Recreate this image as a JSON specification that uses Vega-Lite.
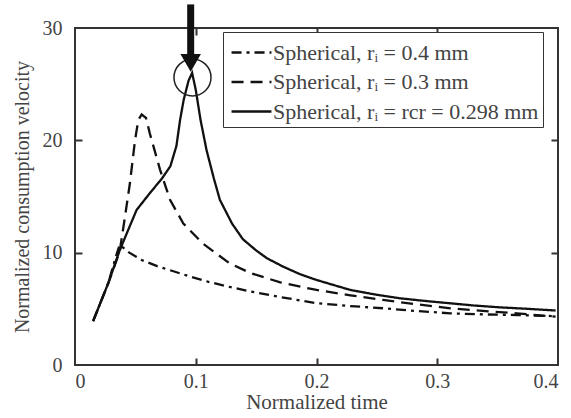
{
  "$schema": "https://vega.github.io/schema/vega-lite/v6.json",
  "width": 483,
  "height": 337,
  "autosize": "none",
  "padding": {"left": 75, "top": 28, "right": 13, "bottom": 53},
  "background": "white",
  "config": {
    "view": {"stroke": "#333", "strokeWidth": 2},
    "font": "Liberation Serif",
    "axis": {
      "labelFont": "Liberation Serif", "labelFontSize": 20, "labelColor": "#444",
      "titleFont": "Liberation Serif", "titleFontSize": 20, "titleColor": "#444", "titleFontWeight": "normal",
      "domain": false, "grid": false, "tickColor": "#333", "tickWidth": 2, "tickSize": 7
    },
    "legend": {
      "labelFont": "Liberation Serif", "labelFontSize": 22, "labelColor": "#444"
    }
  },
  "datasets": {
    "curves": [
      {"series": "r04", "t": 0.015, "v": 3.9},
      {"series": "r04", "t": 0.0276, "v": 7.3},
      {"series": "r04", "t": 0.034, "v": 9.7},
      {"series": "r04", "t": 0.037, "v": 10.7},
      {"series": "r04", "t": 0.045, "v": 10.0},
      {"series": "r04", "t": 0.0552, "v": 9.35},
      {"series": "r04", "t": 0.068, "v": 8.8},
      {"series": "r04", "t": 0.0828, "v": 8.3},
      {"series": "r04", "t": 0.096, "v": 7.85},
      {"series": "r04", "t": 0.11, "v": 7.42},
      {"series": "r04", "t": 0.128, "v": 6.95},
      {"series": "r04", "t": 0.145, "v": 6.55},
      {"series": "r04", "t": 0.17, "v": 6.05},
      {"series": "r04", "t": 0.2, "v": 5.5},
      {"series": "r04", "t": 0.228, "v": 5.25},
      {"series": "r04", "t": 0.255, "v": 5.05},
      {"series": "r04", "t": 0.283, "v": 4.8},
      {"series": "r04", "t": 0.311, "v": 4.6},
      {"series": "r04", "t": 0.34, "v": 4.5},
      {"series": "r04", "t": 0.366, "v": 4.45},
      {"series": "r04", "t": 0.398, "v": 4.35},

      {"series": "r03", "t": 0.015, "v": 3.9},
      {"series": "r03", "t": 0.0276, "v": 7.3},
      {"series": "r03", "t": 0.037, "v": 10.1},
      {"series": "r03", "t": 0.0414, "v": 13.2},
      {"series": "r03", "t": 0.0455, "v": 16.2},
      {"series": "r03", "t": 0.0497, "v": 20.0},
      {"series": "r03", "t": 0.0524, "v": 21.8},
      {"series": "r03", "t": 0.0552, "v": 22.3},
      {"series": "r03", "t": 0.0588, "v": 22.0},
      {"series": "r03", "t": 0.062, "v": 20.6},
      {"series": "r03", "t": 0.0704, "v": 17.4},
      {"series": "r03", "t": 0.0787, "v": 14.7},
      {"series": "r03", "t": 0.0897, "v": 12.6},
      {"series": "r03", "t": 0.106, "v": 10.8},
      {"series": "r03", "t": 0.128, "v": 9.06},
      {"series": "r03", "t": 0.145, "v": 8.2},
      {"series": "r03", "t": 0.17, "v": 7.35},
      {"series": "r03", "t": 0.2, "v": 6.68},
      {"series": "r03", "t": 0.228, "v": 6.2},
      {"series": "r03", "t": 0.255, "v": 5.79},
      {"series": "r03", "t": 0.283, "v": 5.4},
      {"series": "r03", "t": 0.311, "v": 5.05},
      {"series": "r03", "t": 0.34, "v": 4.8},
      {"series": "r03", "t": 0.366, "v": 4.6},
      {"series": "r03", "t": 0.398, "v": 4.3},

      {"series": "rcr", "t": 0.015, "v": 3.9},
      {"series": "rcr", "t": 0.0276, "v": 7.3},
      {"series": "rcr", "t": 0.037, "v": 10.2},
      {"series": "rcr", "t": 0.0428, "v": 11.7},
      {"series": "rcr", "t": 0.051, "v": 13.8},
      {"series": "rcr", "t": 0.062, "v": 15.3},
      {"series": "rcr", "t": 0.072, "v": 16.6},
      {"series": "rcr", "t": 0.079, "v": 17.7},
      {"series": "rcr", "t": 0.084, "v": 19.5},
      {"series": "rcr", "t": 0.087, "v": 21.8},
      {"series": "rcr", "t": 0.09, "v": 23.6},
      {"series": "rcr", "t": 0.094, "v": 25.3},
      {"series": "rcr", "t": 0.097, "v": 26.0},
      {"series": "rcr", "t": 0.1, "v": 24.5},
      {"series": "rcr", "t": 0.104, "v": 21.8},
      {"series": "rcr", "t": 0.109, "v": 19.1},
      {"series": "rcr", "t": 0.115, "v": 16.6},
      {"series": "rcr", "t": 0.12, "v": 14.7},
      {"series": "rcr", "t": 0.13, "v": 12.6},
      {"series": "rcr", "t": 0.139, "v": 11.2},
      {"series": "rcr", "t": 0.15, "v": 10.2},
      {"series": "rcr", "t": 0.159, "v": 9.5},
      {"series": "rcr", "t": 0.1725, "v": 8.75},
      {"series": "rcr", "t": 0.186, "v": 8.1},
      {"series": "rcr", "t": 0.2, "v": 7.57},
      {"series": "rcr", "t": 0.228, "v": 6.68},
      {"series": "rcr", "t": 0.25, "v": 6.25},
      {"series": "rcr", "t": 0.269, "v": 5.94},
      {"series": "rcr", "t": 0.29, "v": 5.7},
      {"series": "rcr", "t": 0.311, "v": 5.49},
      {"series": "rcr", "t": 0.33, "v": 5.3},
      {"series": "rcr", "t": 0.352, "v": 5.13},
      {"series": "rcr", "t": 0.375, "v": 5.0},
      {"series": "rcr", "t": 0.398, "v": 4.85}
    ],
    "marker": [{"t": 0.0973, "v": 25.6}],
    "arrow": [{"t": 0.0958, "v": 32.1, "v2": 27.6}],
    "head": [{"t": 0.0958, "v": 26.9}]
  },
  "resolve": {"axis": {"x": "independent", "y": "independent"}},
  "layer": [
    {
      "data": {"name": "curves"},
      "mark": {"type": "line", "stroke": "#111", "strokeWidth": 2.3},
      "encoding": {
        "x": {"field": "t", "type": "quantitative",
              "scale": {"domain": [0, 0.4], "nice": false, "zero": false},
              "axis": {"values": [0, 0.1, 0.2, 0.3, 0.4], "ticks": false, "labelExpr": "datum.value == 0 ? '0' : format(datum.value, '.1f')", "title": "Normalized time", "titleFontSize": 21, "labelPadding": 6, "titlePadding": 0}},
        "y": {"field": "v", "type": "quantitative",
              "scale": {"domain": [0, 30], "nice": false},
              "axis": {"values": [0, 10, 20, 30], "ticks": false, "title": "Normalized consumption velocity", "labelPadding": 13, "titlePadding": 10}},
        "strokeDash": {"field": "series", "type": "nominal",
              "scale": {"domain": ["r04", "r03", "rcr"], "range": [[10, 5, 3, 5], [12, 7], [1, 0]]},
              "legend": {"title": null, "orient": "none", "legendX": 148, "legendY": 4,
                         "labelExpr": "datum.value == 'r04' ? 'Spherical, rᵢ = 0.4 mm' : datum.value == 'r03' ? 'Spherical, rᵢ = 0.3 mm' : 'Spherical, rᵢ = rcr = 0.298 mm\u00a0'",
                         "labelLimit": 400,
                         "symbolType": "M-1.33,0L1.33,0", "symbolStrokeWidth": 2.3, "symbolSize": 900, "symbolStrokeColor": "#111", "symbolOffset": 8,
                         "strokeColor": "#333", "fillColor": "white", "padding": 4, "rowPadding": 1.5, "labelOffset": 5}}
      }
    },
    {
      "data": {"name": "marker"},
      "mark": {"type": "point", "shape": "circle", "filled": false, "stroke": "#222", "strokeWidth": 1.5, "size": 1369, "opacity": 1},
      "encoding": {
        "x": {"field": "t", "type": "quantitative", "axis": {"orient": "top", "values": [0.1, 0.2, 0.3], "labels": false, "title": null, "offset": -7}},
        "y": {"field": "v", "type": "quantitative", "axis": {"orient": "right", "values": [10, 20], "labels": false, "title": null, "offset": -7}}
      }
    },
    {
      "data": {"name": "arrow"},
      "mark": {"type": "rule", "stroke": "#111", "strokeWidth": 7, "clip": false},
      "encoding": {
        "x": {"field": "t", "type": "quantitative", "axis": {"orient": "bottom", "values": [0.1, 0.2, 0.3], "labels": false, "title": null, "offset": -7}},
        "y": {"field": "v", "type": "quantitative", "axis": {"orient": "left", "values": [10, 20], "labels": false, "title": null, "offset": -7}},
        "y2": {"field": "v2"}
      }
    },
    {
      "data": {"name": "head"},
      "mark": {"type": "point", "shape": "triangle-down", "filled": true, "fill": "#111", "size": 420, "opacity": 1, "clip": false},
      "encoding": {
        "x": {"field": "t", "type": "quantitative", "axis": null},
        "y": {"field": "v", "type": "quantitative", "axis": null}
      }
    }
  ]
}
